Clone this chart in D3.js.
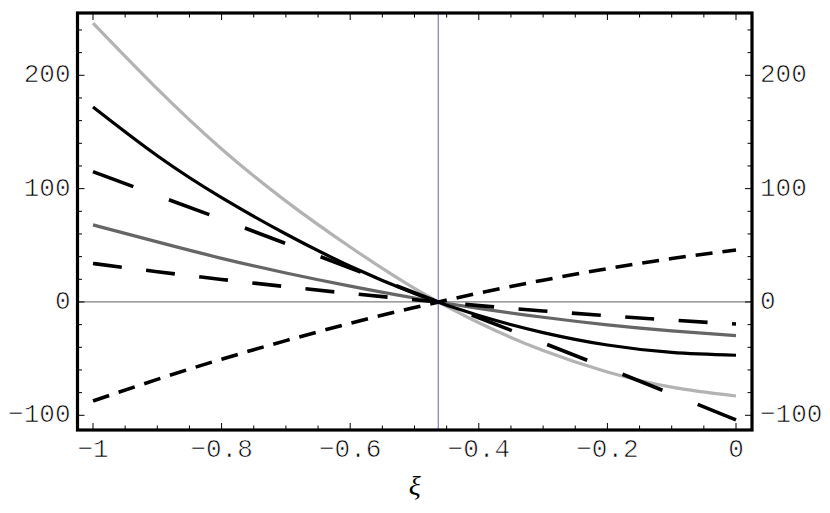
<!DOCTYPE html>
<html>
<head>
<meta charset="utf-8">
<script src="https://cdn.jsdelivr.net/npm/d3@7"></script>
<style>
  html, body { margin: 0; padding: 0; background: #fff; }
  svg { display: block; }
</style>
</head>
<body>
<svg id="chart" width="830" height="513"></svg>
<script>
// ---- data ----
const xi = [-1, -0.9, -0.8, -0.7, -0.6, -0.5, -0.4, -0.3, -0.2, -0.1, 0];
const lightGraySolid = [246, 188, 135, 89, 48.5, 12, -18.3, -42.9, -61.8, -75.2, -83];
const blackSolid     = [172, 129, 92, 60, 31.5, 7.5, -12, -27, -38, -44.5, -47];
const longDash       = [115, 94, 73, 51.5, 29.9, 8.1, -13.9, -36.1, -58.5, -81.2, -104];
const darkGraySolid  = [68, 53, 38.5, 25.6, 14, 3.5, -5.6, -13.5, -20.2, -25.5, -29.7];
const mediumDash     = [34, 26.7, 19.9, 13.5, 7.5, 2.0, -3.2, -7.9, -12.2, -16.0, -19.5];
const shortDash      = [-87.3, -68.3, -50.5, -34.1, -18.8, -4.9, 7.8, 19.2, 29.4, 38.3, 45.9];
const crossingXi = -0.463;
const xMajorTicks = [-1, -0.8, -0.6, -0.4, -0.2, 0];
const xTickLabels = ["\u22121", "\u22120.8", "\u22120.6", "\u22120.4", "\u22120.2", "0"];
const yMajorTicks = [-100, 0, 100, 200];
const yTickLabels = ["\u2212100", "0", "100", "200"];
const xLabel = "\u03BE";

// ---- layout ----
const svg = d3.select("#chart");
const frame = { left: 77.5, right: 752, top: 13, bottom: 430 };
const x = d3.scaleLinear().domain([-1, 0]).range([93, 736]);
const y = d3.scaleLinear().domain([-100, 200]).range([415.3, 75.3]);

const xMinor = d3.range(-1, 0.0001, 0.05).map(v => +v.toFixed(2)).filter(v => !xMajorTicks.some(m => Math.abs(m - v) < 1e-6));
const yMinor = d3.range(-100, 241, 20).filter(v => !yMajorTicks.includes(v));

// zero line and crossing line
svg.append("line")
  .attr("x1", frame.left).attr("x2", frame.right)
  .attr("y1", y(0)).attr("y2", y(0))
  .attr("stroke", "#808080").attr("stroke-width", 1.2);
svg.append("line")
  .attr("x1", x(crossingXi)).attr("x2", x(crossingXi))
  .attr("y1", frame.top).attr("y2", frame.bottom)
  .attr("stroke", "#8585c8").attr("stroke-width", 1.3);

// curves
const line = d3.line().x((d, i) => x(xi[i])).y(d => y(d)).curve(d3.curveNatural);
const series = [
  { v: lightGraySolid, color: "#b3b3b3", w: 3.2, dash: null },
  { v: darkGraySolid, color: "#666666", w: 3.2, dash: null },
  { v: blackSolid, color: "#000", w: 3.2, dash: null },
  { v: longDash, color: "#000", w: 3.6, dash: "43,38" },
  { v: mediumDash, color: "#000", w: 3.6, dash: "29,24.5" },
  { v: shortDash, color: "#000", w: 3.6, dash: "17,10" }
];
svg.append("g").selectAll("path").data(series).join("path")
  .attr("d", d => line(d.v))
  .attr("fill", "none")
  .attr("stroke", d => d.color)
  .attr("stroke-width", d => d.w)
  .attr("stroke-dasharray", d => d.dash);

// ticks (inward, on all four sides)
const tickG = svg.append("g").attr("stroke", "#000").attr("stroke-width", 1);
function vTicks(vals, len) {
  vals.forEach(v => {
    tickG.append("line").attr("x1", x(v)).attr("x2", x(v)).attr("y1", frame.bottom).attr("y2", frame.bottom - len);
    tickG.append("line").attr("x1", x(v)).attr("x2", x(v)).attr("y1", frame.top).attr("y2", frame.top + len);
  });
}
function hTicks(vals, len) {
  vals.forEach(v => {
    tickG.append("line").attr("y1", y(v)).attr("y2", y(v)).attr("x1", frame.left).attr("x2", frame.left + len);
    tickG.append("line").attr("y1", y(v)).attr("y2", y(v)).attr("x1", frame.right).attr("x2", frame.right - len);
  });
}
vTicks(xMajorTicks, 7); vTicks(xMinor, 4.5);
hTicks(yMajorTicks, 7); hTicks(yMinor, 4.5);

// frame
svg.append("rect")
  .attr("x", frame.left).attr("y", frame.top)
  .attr("width", frame.right - frame.left).attr("height", frame.bottom - frame.top)
  .attr("fill", "none").attr("stroke", "#000").attr("stroke-width", 3.2);

// tick labels (thin Courier-like look)
const font = '"Liberation Mono", "Courier New", monospace';
const labG = svg.append("g").attr("font-family", font).attr("font-size", 26).attr("fill", "#000")
  .attr("stroke", "#fff").attr("stroke-width", 0.7);
xMajorTicks.forEach((v, i) => {
  labG.append("text").attr("x", x(v)).attr("y", 450).attr("text-anchor", "middle")
    .attr("dominant-baseline", "central").text(xTickLabels[i]);
});
yMajorTicks.forEach((v, i) => {
  labG.append("text").attr("x", frame.left - 7).attr("y", y(v)).attr("text-anchor", "end")
    .attr("dominant-baseline", "central").text(yTickLabels[i]);
  labG.append("text").attr("x", frame.right + 8).attr("y", y(v)).attr("text-anchor", "start")
    .attr("dominant-baseline", "central").text(yTickLabels[i]);
});

// axis label
svg.append("text")
  .attr("x", (frame.left + frame.right) / 2).attr("y", 485)
  .attr("text-anchor", "middle").attr("dominant-baseline", "central")
  .attr("font-family", '"Liberation Serif", "Times New Roman", serif')
  .attr("font-style", "italic").attr("font-size", 28)
  .text(xLabel);
</script>
</body>
</html>
